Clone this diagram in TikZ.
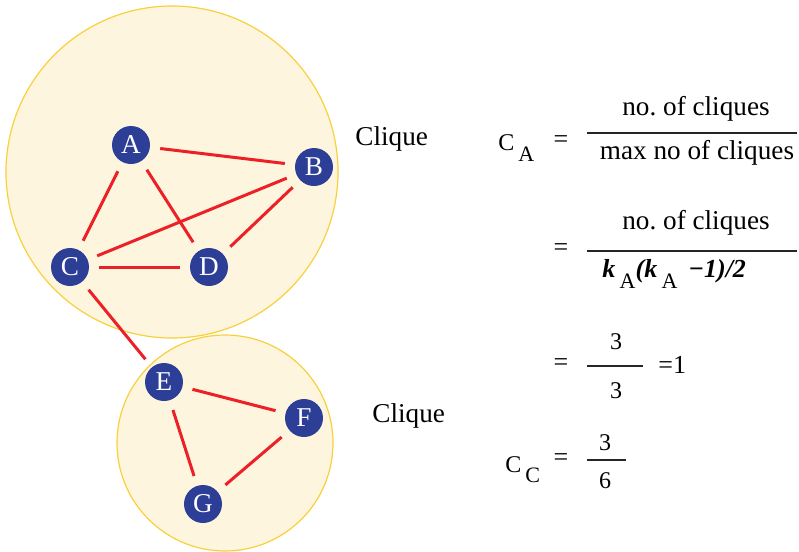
\documentclass[tikz,border=0pt]{standalone}
\usepackage{fontspec}
\setmainfont{Liberation Serif}
\usetikzlibrary{positioning}
\definecolor{cliquefill}{RGB}{254,245,222}
\definecolor{cliqueline}{RGB}{248,208,60}
\definecolor{vertblue}{RGB}{45,62,150}
\definecolor{edgered}{RGB}{236,32,39}
\newcommand{\lowsub}[2][5.5pt]{\raisebox{-#1}{\fontsize{11}{13}\selectfont #2}}
\frenchspacing

\begin{document}
\begin{tikzpicture}[
      x=0.5pt, y=-0.5pt,
      clique/.style = {draw=cliqueline, fill=cliquefill, line width=0.6pt},
      vertex/.style = {circle, fill=vertblue, text=white, minimum size=19pt,
                       inner sep=0pt, font=\fontsize{13.6}{16}\selectfont},
      link/.style   = {draw=edgered, line width=1.5pt, shorten >=5pt, shorten <=5pt},
      txt/.style    = {font=\fontsize{13.6}{16}\selectfont, inner sep=0pt, anchor=base},
      sym/.style    = {font=\fontsize{12}{14}\selectfont, inner sep=0pt, anchor=base},
      bar/.style    = {line width=0.6pt, draw=black!85}
    ]
    \useasboundingbox (0,0) rectangle (799,552);

    % Cliques
    \draw[clique] (172,172) circle[radius=166];
    \draw[clique] (225,443) circle[radius=108];

    % Nodes
    \node[vertex] (A) at (131,145) {A};
    \node[vertex] (B) at (314,167) {B};
    \node[vertex] (C) at (70,267)  {C};
    \node[vertex] (D) at (209,267) {D};
    \node[vertex] (E) at (164,382) {E};
    \node[vertex] (F) at (304,418) {F};
    \node[vertex] (G) at (203,504) {G};

    % Relationships
    \draw[link] (A) -- (B);
    \draw[link] (A) -- (C);
    \draw[link] (A) -- (D);
    \draw[link] (B) -- (C);
    \draw[link] (B) -- (D);
    \draw[link] (C) -- (D);
    \draw[link] (C) -- (E);
    \draw[link] (E) -- (F);
    \draw[link] (E) -- (G);
    \draw[link] (F) -- (G);

    % Labels
    \node[txt, anchor=base west] (clq1) at (355,145) {Clique};
    \node[txt, anchor=base west] (clq2) at (372,422) {Clique};

    % Coefficients
    \node[sym, anchor=base west] (ca) at (498,150) {C\,\lowsub{A}};
    \node[sym, font=\fontsize{13}{15}\selectfont] (eq1) at (561,147) {=};
    \draw[bar] (587,133) -- (797,133);
    \node[txt] (num1) at (696,115) {no. of cliques};
    \node[txt] (den1) at (697,159) {max no of cliques};

    \node[sym, font=\fontsize{13}{15}\selectfont] (eq2) at (561,255) {=};
    \draw[bar] (587,251) -- (797,251);
    \node[txt] (num2) at (696,229) {no. of cliques};
    \node[sym, anchor=base west, font=\fontsize{13}{15}\selectfont] (den2) at (602,277)
      {\textbf{\textit{k}}\,\lowsub{A}\textbf{\textit{(k}}\,\lowsub{A}\,\ \textbf{\textit{−1)/2}}};

    \node[sym, font=\fontsize{13}{15}\selectfont] (eq3) at (561,370) {=};
    \draw[bar] (587,366) -- (643,366);
    \node[sym] (num3) at (616,349) {3};
    \node[sym] (den3) at (616,398) {3};
    \node[sym, anchor=base west, font=\fontsize{13}{15}\selectfont] (res3) at (658,373) {=1};

    \node[sym, anchor=base west] (cc) at (505,472) {C\,\lowsub[5pt]{C}};
    \node[sym, font=\fontsize{13}{15}\selectfont] (eq4) at (561,465) {=};
    \draw[bar] (587,460) -- (626,460);
    \node[sym] (num4) at (605,450) {3};
    \node[sym] (den4) at (605,488) {6};

  \end{tikzpicture}
\end{document}
